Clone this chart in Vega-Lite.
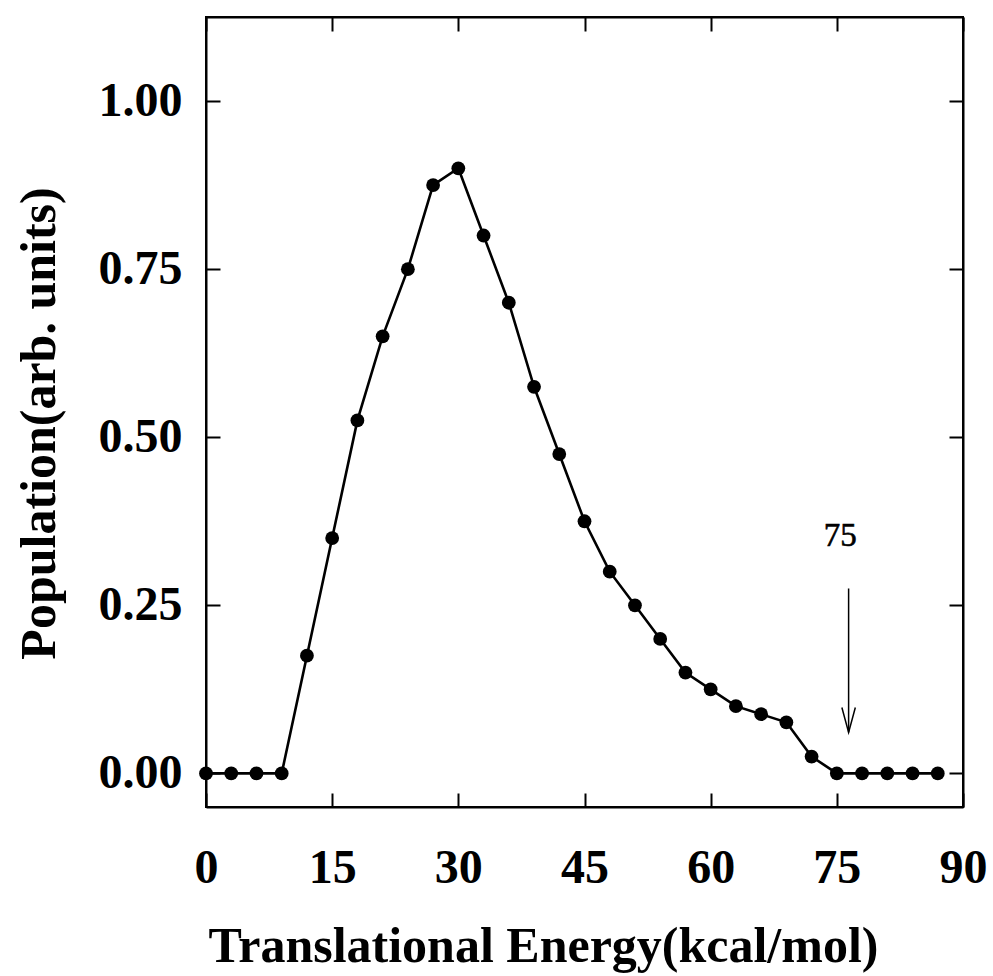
{
  "$schema": "https://vega.github.io/schema/vega-lite/v6.json",
  "width": 757,
  "height": 790,
  "autosize": {"type": "none"},
  "padding": {"left": 206, "top": 17, "right": 30, "bottom": 169},
  "background": "white",
  "config": {
    "view": {"stroke": "black", "strokeWidth": 2},
    "font": "Liberation Serif",
    "axis": {
      "grid": false,
      "domainColor": "black",
      "domainWidth": 2,
      "tickColor": "black",
      "tickWidth": 2,
      "tickSize": -14,
      "labelFont": "Liberation Serif",
      "labelFontSize": 48,
      "labelFontWeight": "bold",
      "labelColor": "black",
      "titleFont": "Liberation Serif",
      "titleFontWeight": "bold",
      "titleColor": "black",
      "titleFontSize": 50
    }
  },
  "data": {
    "values": [
      {"E": 0, "P": 0}, {"E": 3, "P": 0}, {"E": 6, "P": 0}, {"E": 9, "P": 0},
      {"E": 12, "P": 0.175}, {"E": 15, "P": 0.35}, {"E": 18, "P": 0.525},
      {"E": 21, "P": 0.65}, {"E": 24, "P": 0.75}, {"E": 27, "P": 0.875},
      {"E": 30, "P": 0.9}, {"E": 33, "P": 0.8}, {"E": 36, "P": 0.7},
      {"E": 39, "P": 0.575}, {"E": 42, "P": 0.475}, {"E": 45, "P": 0.375},
      {"E": 48, "P": 0.3}, {"E": 51, "P": 0.25}, {"E": 54, "P": 0.2},
      {"E": 57, "P": 0.15}, {"E": 60, "P": 0.125}, {"E": 63, "P": 0.1},
      {"E": 66, "P": 0.088}, {"E": 69, "P": 0.076}, {"E": 72, "P": 0.025},
      {"E": 75, "P": 0}, {"E": 78, "P": 0}, {"E": 81, "P": 0}, {"E": 84, "P": 0},
      {"E": 87, "P": 0}
    ]
  },
  "layer": [
    {
      "mark": {"type": "line", "color": "black", "strokeWidth": 2.6},
      "encoding": {
        "x": {
          "field": "E", "type": "quantitative",
          "scale": {"domain": [0, 90], "nice": false, "zero": false},
          "axis": {
            "orient": "bottom",
            "values": [0, 15, 30, 45, 60, 75, 90],
            "format": "d",
            "labelBaseline": "alphabetic",
            "labelPadding": 89,
            "labelFlush": false,
            "labelOverlap": false,
            "title": "Translational Energy(kcal/mol)",
            "titleX": 337,
            "titleY": 154,
            "titleAlign": "center",
            "titleBaseline": "alphabetic"
          }
        },
        "y": {
          "field": "P", "type": "quantitative",
          "scale": {"domain": [-0.05, 1.125], "nice": false, "zero": false},
          "axis": {
            "orient": "left",
            "values": [0, 0.25, 0.5, 0.75, 1],
            "format": ".2f",
            "labelBaseline": "middle",
            "labelPadding": 38,
            "labelFlush": false,
            "labelOverlap": false,
            "title": "Population(arb. units)",
            "titleX": -167,
            "titleY": 406,
            "titleAngle": 270,
            "titleAlign": "center",
            "titleBaseline": "middle"
          }
        }
      }
    },
    {
      "mark": {"type": "point", "filled": true, "color": "black", "opacity": 1, "size": 190},
      "encoding": {
        "x": {"field": "E", "type": "quantitative", "axis": null},
        "y": {"field": "P", "type": "quantitative", "axis": null}
      }
    },
    {
      "mark": {"type": "point", "opacity": 0},
      "encoding": {
        "x": {
          "field": "E", "type": "quantitative",
          "axis": {"orient": "top", "values": [0, 15, 30, 45, 60, 75, 90], "labels": false, "title": null}
        },
        "y": {
          "field": "P", "type": "quantitative",
          "axis": {"orient": "right", "values": [0, 0.25, 0.5, 0.75, 1], "labels": false, "title": null}
        }
      }
    },
    {
      "data": {"values": [{"E": 75.4, "P": 0.338, "label": "75"}]},
      "mark": {"type": "text", "font": "Liberation Serif", "fontSize": 33, "fontWeight": "normal", "color": "black", "stroke": "black", "strokeWidth": 0.6, "align": "center", "baseline": "alphabetic"},
      "encoding": {
        "x": {"field": "E", "type": "quantitative", "axis": null},
        "y": {"field": "P", "type": "quantitative", "axis": null},
        "text": {"field": "label"}
      }
    },
    {
      "data": {"values": [{"E": 76.4, "P": 0.275, "P2": 0.061}]},
      "mark": {"type": "rule", "color": "black", "strokeWidth": 1.5},
      "encoding": {
        "x": {"field": "E", "type": "quantitative", "axis": null},
        "y": {"field": "P", "type": "quantitative", "axis": null},
        "y2": {"field": "P2"}
      }
    },
    {
      "data": {"values": [{"E": 75.6, "P": 0.098, "o": 1}, {"E": 76.4, "P": 0.061, "o": 2}, {"E": 77.2, "P": 0.098, "o": 3}]},
      "mark": {"type": "line", "color": "black", "strokeWidth": 1.5},
      "encoding": {
        "x": {"field": "E", "type": "quantitative", "axis": null},
        "y": {"field": "P", "type": "quantitative", "axis": null},
        "order": {"field": "o"}
      }
    }
  ],
  "resolve": {"axis": {"x": "independent", "y": "independent"}}
}
